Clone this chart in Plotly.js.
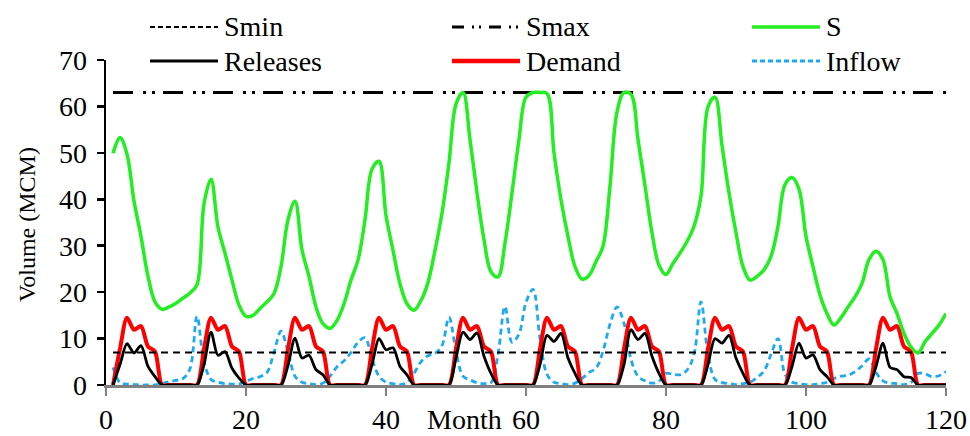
<!DOCTYPE html>
<html>
<head>
<meta charset="utf-8">
<script src="https://cdn.plot.ly/plotly-3.0.1.min.js"></script>
<style>html,body{margin:0;padding:0;background:#fff;} #chart{width:970px;height:436px;}</style>
</head>
<body>
<div id="chart"></div>
<script>
const months = [1,2,3,4,5,6,7,8,9,10,11,12,13,14,15,16,17,18,19,20,21,22,23,24,25,26,27,28,29,30,31,32,33,34,35,36,37,38,39,40,41,42,43,44,45,46,47,48,49,50,51,52,53,54,55,56,57,58,59,60,61,62,63,64,65,66,67,68,69,70,71,72,73,74,75,76,77,78,79,80,81,82,83,84,85,86,87,88,89,90,91,92,93,94,95,96,97,98,99,100,101,102,103,104,105,106,107,108,109,110,111,112,113,114,115,116,117,118,119,120];

const storage = [
49.9,53.3,49.7,39.6,32.0,23.4,17.9,16.3,16.8,17.6,18.7,19.8,
21.6,39.0,44.3,34.0,28.4,22.6,17.2,14.8,15.0,16.5,17.9,19.7,
25.5,35.6,39.6,29.1,23.4,16.8,13.2,12.2,13.9,17.5,22.6,26.9,
35.6,46.5,48.2,36.5,29.0,21.8,17.5,16.1,18.2,22.1,29.0,37.0,
47.9,60.5,63.0,52.9,41.4,31.3,24.4,23.3,30.6,41.4,52.9,62.0,
63.0,63.0,62.8,50.0,39.9,32.0,25.5,22.8,23.6,26.6,29.9,42.9,
58.8,63.0,62.6,52.9,42.9,32.8,25.8,23.8,26.2,28.4,30.9,34.2,
40.7,59.9,62.0,51.6,41.4,32.8,25.5,22.6,23.4,24.8,27.7,34.2,
43.2,44.7,42.2,32.0,25.5,19.4,15.4,12.9,14.5,16.8,19.0,21.9,
27.0,28.8,27.0,19.0,15.4,11.1,8.2,6.9,9.3,11.1,12.9,15.4
];

const releases = [
0,4.4,8.9,6.9,8.5,4.0,1.8,0,0,0,0,0,
0,4.4,11.4,6.4,7.2,3.6,1.5,0,0,0,0,0,
0,4.2,10.1,5.8,6.4,3.3,2.2,0,0,0,0,0,
0,4.4,10.0,7.6,8.0,4.0,2.2,0,0,0,0,0,
0,5.8,11.4,9.8,11.2,6.2,2.5,0,0,0,0,0,
0,4.4,10.7,9.4,11.1,5.8,2.5,0,0,0,0,0,
0,4.4,11.9,9.8,11.1,6.2,2.5,0,0,0,0,0,
0,4.4,10.0,9.0,10.7,5.8,2.5,0,0,0,0,0,
0,4.0,9.0,5.8,6.5,3.3,1.8,0,0,0,0,0,
0,4.0,9.0,3.8,3.3,1.8,1.6,0,0,0,0,0
];

const demand = [
0,7.8,14.5,11.9,12.7,8.3,7.2,0,0,0,0,0,
0,7.8,14.5,11.9,12.7,8.3,7.2,0,0,0,0,0,
0,7.8,14.5,11.9,12.7,8.3,7.2,0,0,0,0,0,
0,7.8,14.5,11.9,12.7,8.3,7.2,0,0,0,0,0,
0,7.8,14.5,11.9,12.7,8.3,7.2,0,0,0,0,0,
0,7.8,14.5,11.9,12.7,8.3,7.2,0,0,0,0,0,
0,7.8,14.5,11.9,12.7,8.3,7.2,0,0,0,0,0,
0,7.8,14.5,11.9,12.7,8.3,7.2,0,0,0,0,0,
0,7.8,14.5,11.9,12.7,8.3,7.2,0,0,0,0,0,
0,7.8,14.5,11.9,12.7,8.3,7.2,0,0,0,0,0
];

const inflow = [
3.8,0.5,0.2,0.1,0,0,0,0.3,0.7,1.0,1.4,3.5,
14.8,5.0,1.2,0.6,0.3,0.2,0.2,0.8,1.4,1.8,2.7,7.0,
11.6,7.2,1.9,0.6,0.3,0.1,0.4,1.9,3.9,5.2,7.0,9.2,
10.2,5.6,1.9,0.6,0.3,0.1,0.5,2.5,5.0,6.3,6.8,8.5,
14.6,7.3,1.9,1.1,0.5,0.3,0.5,6.6,16.9,9.2,11.0,17.8,
20.6,10.0,2.3,0.6,0.3,0.1,0.4,1.4,2.7,3.6,7.3,13.1,
16.8,13.3,5.5,1.9,0.9,0.4,0.8,2.5,2.3,2.2,3.2,6.6,
17.9,6.6,1.2,0.5,0.3,0.1,0.3,0.6,1.6,3.0,6.6,10.0,
2.3,0.6,0.3,0.1,0.1,0.3,0.6,1.4,1.9,2.1,2.9,4.1,
5.6,2.7,0.9,0.4,0.3,0.1,0.5,2.5,2.4,1.8,2.0,2.9
];

const sMin = 7;
const sMax = 63;
const xRange = [0, 120];
const yRange = [0, 70];
const xTicks = [0, 20, 40, 60, 80, 100, 120];
const yTicks = [0, 10, 20, 30, 40, 50, 60, 70];
const seriesNames = ['Smin', 'Smax', 'S', 'Releases', 'Demand', 'Inflow'];
const xTitle = 'Month';
const yTitle = 'Volume (MCM)';

const FONT = '"Liberation Serif", "Times New Roman", "DejaVu Serif", serif';
const GREEN = '#22EE22', RED = '#FF0000', BLUE = '#1DAAEE', BLACK = '#000000';
const FS = 28;

const first = months[0], last = months[months.length - 1];

const traces = [
  {x: months, y: inflow, name: seriesNames[5], mode: 'lines', line: {color: BLUE, width: 2.8, dash: '6px,4px', shape: 'spline', smoothing: 1}},
  {x: months, y: demand, name: seriesNames[4], mode: 'lines', line: {color: RED, width: 4, shape: 'spline', smoothing: 0.8}},
  {x: months, y: releases, name: seriesNames[3], mode: 'lines', line: {color: BLACK, width: 2.8, shape: 'spline', smoothing: 0.8}},
  {x: [first, last], y: [sMin, sMin], name: seriesNames[0], mode: 'lines', line: {color: BLACK, width: 2.2, dash: '7px,5px'}},
  {x: [first, last], y: [sMax, sMax], name: seriesNames[1], mode: 'lines', line: {color: BLACK, width: 2.8, dash: '20px,10px,3px,6px,3px,8px'}},
  {x: months, y: storage, name: seriesNames[2], mode: 'lines', line: {color: GREEN, width: 3.5, shape: 'spline', smoothing: 1}}
];
traces.forEach(t => { t.showlegend = false; t.hoverinfo = 'skip'; });

const W = 970, H = 436, ML = 106, MR = 24, MT = 60, MB = 51;
const pw = W - ML - MR, ph = H - MT - MB;
const px = v => (v - ML) / pw;
const py = v => (H - MB - v) / ph;
const legendItems = [
  {name: seriesNames[0], col: 0, row: 0, color: BLACK, width: 2.2, dash: '5px,3px'},
  {name: seriesNames[1], col: 1, row: 0, color: BLACK, width: 2.8, dash: '12px,8px,2px,5px,2px,8px'},
  {name: seriesNames[2], col: 2, row: 0, color: GREEN, width: 3.5, dash: 'solid'},
  {name: seriesNames[3], col: 0, row: 1, color: BLACK, width: 3.2, dash: 'solid'},
  {name: seriesNames[4], col: 1, row: 1, color: RED, width: 4.5, dash: 'solid'},
  {name: seriesNames[5], col: 2, row: 1, color: BLUE, width: 2.8, dash: '5px,3px'}
];
const colX = [150, 452, 752], rowY = [27, 61], lineLen = 68;
const shapes = [], annotations = [];
legendItems.forEach(it => {
  const x0 = colX[it.col], y = rowY[it.row];
  shapes.push({type: 'line', xref: 'paper', yref: 'paper', x0: px(x0), x1: px(x0 + lineLen), y0: py(y), y1: py(y),
    line: {color: it.color, width: it.width, dash: it.dash}});
  annotations.push({xref: 'paper', yref: 'paper', x: px(x0 + lineLen + 4), y: py(y), xanchor: 'left', yanchor: 'middle',
    text: it.name, showarrow: false, font: {family: FONT, size: FS, color: '#000'}});
});
annotations.push({xref: 'paper', yref: 'paper', x: px(464), y: py(419), xanchor: 'center', yanchor: 'middle',
  text: xTitle, showarrow: false, font: {family: FONT, size: FS, color: '#000'}});
annotations.push({xref: 'paper', yref: 'paper', x: px(27), y: py(225), xanchor: 'center', yanchor: 'middle', textangle: -90,
  text: yTitle, showarrow: false, font: {family: FONT, size: 24, color: '#000'}});

const layout = {
  width: W, height: H,
  margin: {l: ML, r: MR, t: MT, b: MB, pad: 0},
  paper_bgcolor: '#fff', plot_bgcolor: '#fff',
  font: {family: FONT, size: FS, color: '#000'},
  showlegend: false,
  xaxis: {range: xRange, tickvals: xTicks, ticktext: xTicks.map(String), showgrid: false, zeroline: false,
    showline: true, linecolor: '#808080', linewidth: 2.5, ticks: 'outside', ticklen: 8, tickwidth: 2.5, tickcolor: '#808080',
    tickfont: {family: FONT, size: FS, color: '#000'}, fixedrange: true},
  yaxis: {range: yRange, tickvals: yTicks, ticktext: yTicks.map(String), showgrid: false, zeroline: false,
    showline: true, linecolor: '#000', linewidth: 2.5, ticks: 'outside', ticklen: 7, tickwidth: 2.5, tickcolor: '#000',
    tickfont: {family: FONT, size: FS, color: '#000'}, ticklabelstandoff: 4, fixedrange: true},
  shapes: shapes,
  annotations: annotations
};

Plotly.newPlot('chart', traces, layout, {displayModeBar: false, staticPlot: true});
</script>
</body>
</html>
